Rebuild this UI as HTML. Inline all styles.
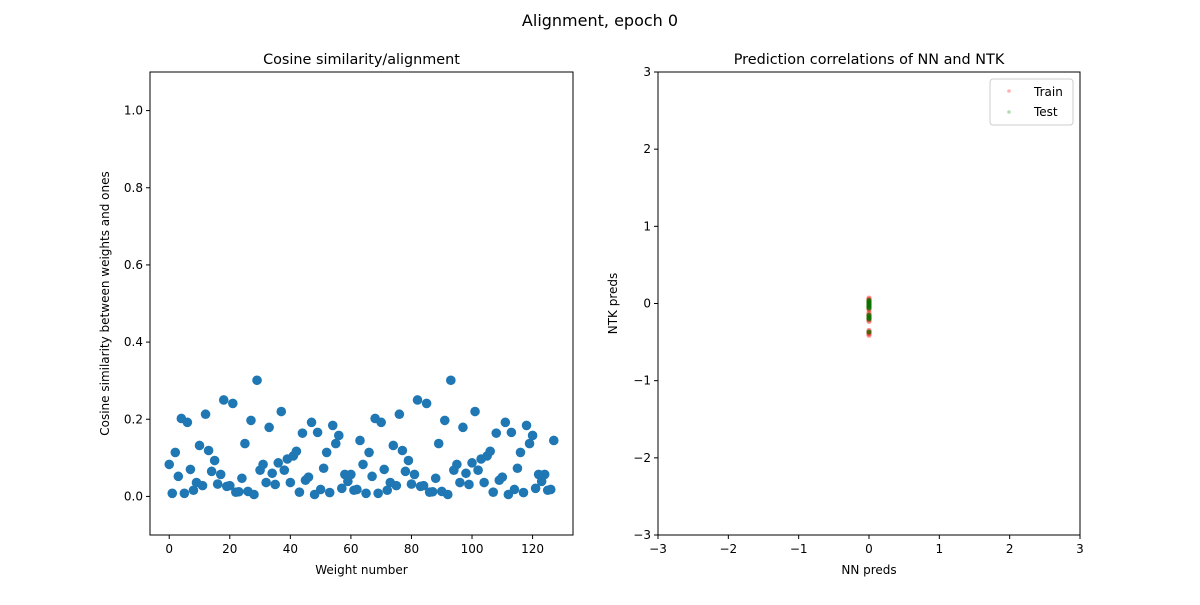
<!DOCTYPE html>
<html><head><meta charset="utf-8"><style>
body{margin:0;background:#fff;}
svg text{font-family:"DejaVu Sans","Liberation Sans",sans-serif;fill:#000;}
</style></head><body>
<svg id="c" width="1200" height="600" xmlns="http://www.w3.org/2000/svg">
<text x="600" y="26" font-size="16" text-anchor="middle">Alignment, epoch 0</text>
<g id="left"></g>
<g id="right"></g>
</svg>
<script>
const cosBase = [0.083,0.008,0.114,0.052,0.202,0.008,0.192,0.070,0.016,0.036,0.132,0.028,0.213,0.119,0.065,0.093,0.032,0.057,0.250,0.026,0.028,0.241,0.011,0.012,0.047,0.137,0.013,0.197,0.005,0.301,0.068,0.083,0.036,0.179,0.060,0.031,0.087,0.220,0.068,0.097,0.036,0.105,0.117,0.011,0.164,0.042,0.050,0.192,0.005,0.166,0.018,0.073,0.114,0.010,0.184,0.137,0.158,0.021,0.057,0.039,0.057,0.016,0.018,0.145];
const cosValues = cosBase.concat(cosBase);
const leftXTicks = [0,20,40,60,80,100,120];
const leftYTicks = [0.0,0.2,0.4,0.6,0.8,1.0];
const trainNN = [0,0,0,0,0,0,0,0,0,0,0,0,0,0,0,0,0,0];
const trainNTK = [0.07,0.05,0.03,0.01,-0.01,-0.03,-0.05,-0.08,-0.12,-0.15,-0.17,-0.19,-0.21,-0.23,-0.37,-0.39,-0.41,-0.35];
const testNN = [0,0,0,0,0,0,0,0,0,0];
const testNTK = [0.04,0.02,0,-0.02,-0.04,-0.06,-0.15,-0.18,-0.2,-0.37];
const rightTicks = [-3,-2,-1,0,1,2,3];
const NS='http://www.w3.org/2000/svg';
function el(p,t,a,txt){const e=document.createElementNS(NS,t);for(const k in a)e.setAttribute(k,a[k]);if(txt!==undefined)e.textContent=txt;p.appendChild(e);return e;}
function fmt(v){return v<0?'\u2212'+Math.abs(v):String(v);}
// left
const L=document.getElementById('left');
const lx0=150,lx1=573,ly0=72,ly1=535;
const lxs=v=>lx0+(v+6.35)/(133.35+6.35)*(lx1-lx0);
const lys=v=>ly1-(v+0.1)/1.2*(ly1-ly0);
cosValues.forEach((v,i)=>{const c=el(L,'circle',{cx:lxs(i),cy:lys(v),r:4.8,fill:'#1f77b4'});

});
const lf=el(L,'rect',{x:lx0,y:ly0,width:lx1-lx0,height:ly1-ly0,fill:'none',stroke:'#000','stroke-width':1});

leftXTicks.forEach(t=>{const x=lxs(t);el(L,'line',{x1:x,x2:x,y1:ly1,y2:ly1+4,stroke:'#000'});
const tx=el(L,'text',{x:x,y:ly1+18,'font-size':12,'text-anchor':'middle'},String(t));
});
leftYTicks.forEach(t=>{const y=lys(t);el(L,'line',{x1:lx0-4,x2:lx0,y1:y,y2:y,stroke:'#000'});
const tx=el(L,'text',{x:lx0-7,y:y+4,'font-size':12,'text-anchor':'end'},t.toFixed(1));
});
let t1=el(L,'text',{x:(lx0+lx1)/2,y:64,'font-size':14.4,'text-anchor':'middle'},'Cosine similarity/alignment');

t1=el(L,'text',{x:(lx0+lx1)/2,y:574,'font-size':12,'text-anchor':'middle'},'Weight number');

t1=el(L,'text',{x:0,y:0,'font-size':12,'text-anchor':'middle',transform:'translate(109,'+(ly0+ly1)/2+') rotate(-90)'},'Cosine similarity between weights and ones');

// right
const R=document.getElementById('right');
const rx0=658,rx1=1080,ry0=72,ry1=535;
const rxs=v=>rx0+(v+3)/6*(rx1-rx0);
const rys=v=>ry1-(v+3)/6*(ry1-ry0);
trainNN.forEach((v,i)=>{const c=el(R,'circle',{cx:rxs(v),cy:rys(trainNTK[i]),r:2.6,fill:'#ff0000','fill-opacity':0.45});
});
testNN.forEach((v,i)=>{const c=el(R,'circle',{cx:rxs(v),cy:rys(testNTK[i]),r:2.6,fill:'#007700','fill-opacity':0.7});
});
const rf=el(R,'rect',{x:rx0,y:ry0,width:rx1-rx0,height:ry1-ry0,fill:'none',stroke:'#000'});

rightTicks.forEach(t=>{const x=rxs(t);el(R,'line',{x1:x,x2:x,y1:ry1,y2:ry1+4,stroke:'#000'});
let tx=el(R,'text',{x:x,y:ry1+18,'font-size':12,'text-anchor':'middle'},fmt(t));

const y=rys(t);el(R,'line',{x1:rx0-4,x2:rx0,y1:y,y2:y,stroke:'#000'});
tx=el(R,'text',{x:rx0-7,y:y+4,'font-size':12,'text-anchor':'end'},fmt(t));
});
t1=el(R,'text',{x:(rx0+rx1)/2,y:64,'font-size':14.4,'text-anchor':'middle'},'Prediction correlations of NN and NTK');

t1=el(R,'text',{x:(rx0+rx1)/2,y:574,'font-size':12,'text-anchor':'middle'},'NN preds');

t1=el(R,'text',{x:0,y:0,'font-size':12,'text-anchor':'middle',transform:'translate(617,'+(ry0+ry1)/2+') rotate(-90)'},'NTK preds');

const lg=el(R,'g',{});

el(lg,'rect',{x:990,y:79,width:83,height:46,rx:3,fill:'#fff',stroke:'#ccc'});
el(lg,'circle',{cx:1009,cy:91,r:1.8,fill:'#ff0000','fill-opacity':0.3});
el(lg,'circle',{cx:1009,cy:112,r:1.8,fill:'#008800','fill-opacity':0.3});
let le=el(lg,'text',{x:1034,y:96,'font-size':12},'Train');

le=el(lg,'text',{x:1034,y:116,'font-size':12},'Test');

</script>
</body></html>
